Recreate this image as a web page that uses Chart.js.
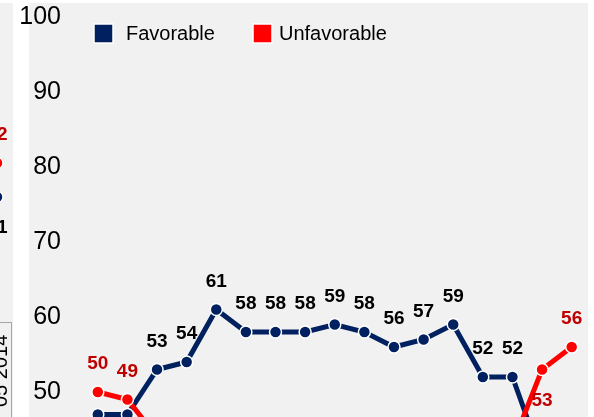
<!DOCTYPE html>
<html>
<head>
<meta charset="utf-8">
<script src="https://cdn.jsdelivr.net/npm/chart.js@4.4.1/dist/chart.umd.min.js"></script>
<style>
  html, body { margin:0; padding:0; width:594px; height:417px; overflow:hidden; background:#ffffff;
    font-family:"Liberation Sans", Arial, sans-serif; }
  #plotBg { position:absolute; left:29px; top:3px; width:559px; height:414px; background:#f1f1f1; }
  #leftStrip { position:absolute; left:0; top:3px; width:13px; height:414px; background:#f1f1f1; overflow:hidden; }
  #leftCanvas { position:absolute; left:-87px; top:-3px; }
  #dateBox { position:absolute; left:-20px; top:319px; width:31px; height:200px;
    border-top:1px solid #a6a6a6; border-right:1px solid #a6a6a6; }
  #dateText { position:absolute; left:-10px; top:404px; transform-origin:0 0; transform:rotate(-90deg);
    font-size:20px; line-height:20px; white-space:nowrap; color:#000; }
  #mainCanvas { position:absolute; left:0; top:0; }
</style>
</head>
<body>
<div id="plotBg"></div>
<div id="leftStrip">
  <canvas id="leftCanvas" width="100" height="417"></canvas>
  <div id="dateBox"></div>
  <div id="dateText">05 2014</div>
</div>
<canvas id="mainCanvas" width="594" height="560"></canvas>
<script>
// ---------------- data ----------------
const categories = ['1','2','3','4','5','6','7','8','9','10','11','12','13','14','15','16','17'];
const favorable   = [47, 47, 53, 54, 61, 58, 58, 58, 59, 58, 56, 57, 59, 52, 52, 41, null];
const unfavorable = [50, 49, 44, null, null, null, null, null, null, null, null, null, null, null, 43, 53, 56];
const favorableLabelPos   = ['below','below','above','above','above','above','above','above','above','above','above','above','above','above','above','below', null];
const unfavorableLabelPos = ['above','above','below', null, null, null, null, null, null, null, null, null, null, null,'below','below','above'];
const yTickMin = 30, yTickMax = 100, yTickStep = 10;

// partial neighbouring panel (only its right edge is visible)
const leftCategories  = ['a', 'b'];
const leftFavorable   = [null, 61];
const leftUnfavorable = [null, 72];
const leftFavorableLabelPos   = [null, 'below'];
const leftUnfavorableLabelPos = [null, 'above'];

// ---------------- styles ----------------
const NAVY = '#002060';
const RED = '#ff0000';
const RED_LABEL = '#c00000';
const FONT = '"Liberation Sans", Arial, sans-serif';

const labelPlugin = {
  id: 'valueLabels',
  afterDatasetsDraw(chart) {
    const ctx = chart.ctx;
    ctx.save();
    ctx.font = 'bold 19px ' + FONT;
    ctx.textAlign = 'center';
    ctx.textBaseline = 'middle';
    chart.data.datasets.forEach((ds, di) => {
      const meta = chart.getDatasetMeta(di);
      meta.data.forEach((pt, i) => {
        const v = ds.data[i];
        const pos = ds.labelPos ? ds.labelPos[i] : null;
        if (v === null || v === undefined || !pos) return;
        const dy = pos === 'above' ? -28 : 31;
        ctx.fillStyle = ds.labelColor;
        ctx.fillText(String(v), pt.x, pt.y + dy);
      });
    });
    ctx.restore();
  }
};

const legendPlugin = {
  id: 'customLegend',
  afterDraw(chart) {
    const items = chart.options.plugins.customLegend.items;
    const ctx = chart.ctx;
    ctx.save();
    ctx.font = '20px ' + FONT;
    ctx.textBaseline = 'middle';
    ctx.textAlign = 'left';
    items.forEach(it => {
      const ds = chart.data.datasets.find(d => d.label === it.label);
      ctx.fillStyle = ds.borderColor;
      ctx.fillRect(it.boxX, 24, 19, 19);
      ctx.strokeStyle = '#ffffff';
      ctx.lineWidth = 1.5;
      ctx.strokeRect(it.boxX, 24, 19, 19);
      ctx.fillStyle = '#000';
      ctx.fillText(ds.label, it.textX, 34);
    });
    ctx.restore();
  }
};

function seriesStyle(color) {
  return {
    borderColor: color, backgroundColor: color,
    pointBackgroundColor: color, pointBorderColor: '#ffffff',
    pointBorderWidth: 1.5, pointRadius: 6, borderWidth: 5,
    tension: 0, spanGaps: false, clip: false
  };
}

new Chart(document.getElementById('mainCanvas').getContext('2d'), {
  type: 'line',
  data: {
    labels: categories,
    datasets: [
      Object.assign({ label: 'Unfavorable', data: unfavorable, labelPos: unfavorableLabelPos, labelColor: RED_LABEL }, seriesStyle(RED)),
      Object.assign({ label: 'Favorable', data: favorable, labelPos: favorableLabelPos, labelColor: '#000000' }, seriesStyle(NAVY))
    ]
  },
  options: {
    responsive: false, animation: false, events: [],
    layout: { padding: { top: 17, right: 6, bottom: 18, left: 0 } },
    plugins: {
      legend: { display: false }, tooltip: { enabled: false },
      customLegend: { items: [ { label: 'Favorable', boxX: 94, textX: 126 }, { label: 'Unfavorable', boxX: 253, textX: 279 } ] }
    },
    scales: {
      x: { display: false, offset: true },
      y: {
        min: yTickMin, max: yTickMax,
        ticks: { stepSize: yTickStep, padding: 22, color: '#000000', font: { size: 25, family: FONT } },
        grid: { display: false, drawTicks: false },
        border: { display: false },
        afterFit(scale) { scale.width = 83; scale.paddingTop = 0; scale.paddingBottom = 0; }
      }
    }
  },
  plugins: [labelPlugin, legendPlugin]
});

new Chart(document.getElementById('leftCanvas').getContext('2d'), {
  type: 'line',
  data: {
    labels: leftCategories,
    datasets: [
      Object.assign({ label: 'Unfavorable', data: leftUnfavorable, labelPos: leftUnfavorableLabelPos, labelColor: RED_LABEL }, seriesStyle(RED)),
      Object.assign({ label: 'Favorable', data: leftFavorable, labelPos: leftFavorableLabelPos, labelColor: '#000000' }, seriesStyle(NAVY))
    ]
  },
  options: {
    responsive: false, animation: false, events: [],
    layout: { padding: { top: 76.5, right: 16, bottom: 31.5, left: 0 } },
    plugins: { legend: { display: false }, tooltip: { enabled: false } },
    scales: {
      x: { display: false, offset: false },
      y: { display: false, min: 0, max: 100 }
    }
  },
  plugins: [labelPlugin]
});
</script>
</body>
</html>
